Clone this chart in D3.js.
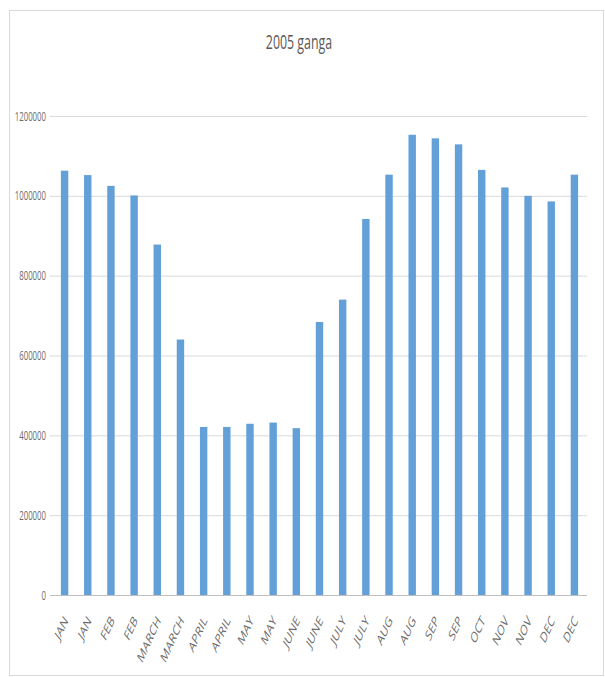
<!DOCTYPE html>
<html>
<head>
<meta charset="utf-8">
<script src="https://cdn.jsdelivr.net/npm/d3@7"></script>
<style>
  html, body { margin: 0; padding: 0; background: #ffffff; }
  svg { display: block; }
</style>
</head>
<body>
<svg id="chart" width="605" height="677"></svg>
<script>
// Monthly readings for 2005 (two readings per month; October has one)
const categories = ["JAN", "JAN", "FEB", "FEB", "MARCH", "MARCH", "APRIL", "APRIL",
  "MAY", "MAY", "JUNE", "JUNE", "JULY", "JULY", "AUG", "AUG", "SEP", "SEP",
  "OCT", "NOV", "NOV", "DEC", "DEC"];
const values = [1063000, 1052000, 1025000, 1001000, 878000, 640000, 421000, 421000,
  429000, 432000, 418000, 684000, 740000, 942000, 1053000, 1153000, 1144000, 1129000,
  1065000, 1021000, 1000000, 986000, 1053000];
const yTicks = [0, 200000, 400000, 600000, 800000, 1000000, 1200000];
const title = "2005 ganga";

const svg = d3.select("#chart");
const font = "'Open Sans', sans-serif";
// Text is drawn horizontally narrowed, giving a condensed face
const squeeze = 0.62;

const plot = { left: 50, right: 587, top: 116, bottom: 595 };

// Chart frame
svg.append("rect")
  .attr("x", 9.5).attr("y", 10.5)
  .attr("width", 594).attr("height", 665)
  .attr("fill", "#ffffff")
  .attr("stroke", "#d9d9d9")
  .attr("stroke-width", 1);

const x = d3.scaleBand()
  .domain(d3.range(categories.length))
  .range([53, 586])
  .paddingInner(0.68)
  .paddingOuter(0.34);

const y = d3.scaleLinear()
  .domain([0, 1200000])
  .range([plot.bottom, plot.top]);

// Horizontal gridlines with value labels
const yAxis = d3.axisLeft(y)
  .tickValues(yTicks)
  .tickSize(-(plot.right - plot.left))
  .tickPadding(4)
  .tickFormat(d3.format("d"));

const gy = svg.append("g")
  .attr("transform", `translate(${plot.left},0)`)
  .call(yAxis);
gy.select(".domain").remove();
gy.selectAll(".tick line").attr("stroke", "#d9d9d9").attr("stroke-width", 1);
gy.selectAll(".tick text")
  .attr("fill", "#6b6b6b")
  .attr("x", null)
  .attr("transform", `translate(-4,0) scale(${squeeze},1)`)
  .style("font-family", font)
  .style("font-size", "12.6px");

// Bars
svg.append("g")
  .selectAll("rect")
  .data(values)
  .join("rect")
  .attr("x", (d, i) => x(i))
  .attr("width", x.bandwidth())
  .attr("y", d => y(d))
  .attr("height", d => y(0) - y(d))
  .attr("fill", "#64a0d8");

// Category axis
const xAxis = d3.axisBottom(x)
  .tickSize(0)
  .tickPadding(0)
  .tickFormat(i => categories[i]);

const gx = svg.append("g")
  .attr("transform", `translate(0,${plot.bottom})`)
  .call(xAxis);
gx.select(".domain")
  .attr("d", `M${plot.left},0.5H${plot.right}`)
  .attr("stroke", "#bfbfbf");
gx.selectAll(".tick text")
  .attr("fill", "#6b6b6b")
  .style("font-family", font)
  .style("font-size", "15px")
  .attr("text-anchor", "end")
  .attr("x", 0)
  .attr("y", 0)
  .attr("dy", null)
  .attr("transform", `translate(4,26) scale(${squeeze},1) rotate(-54)`);

// Title
svg.append("text")
  .attr("transform", `translate(299,49) scale(${squeeze},1)`)
  .attr("text-anchor", "middle")
  .attr("fill", "#595959")
  .style("font-family", font)
  .style("font-size", "20px")
  .text(title);
</script>
</body>
</html>
